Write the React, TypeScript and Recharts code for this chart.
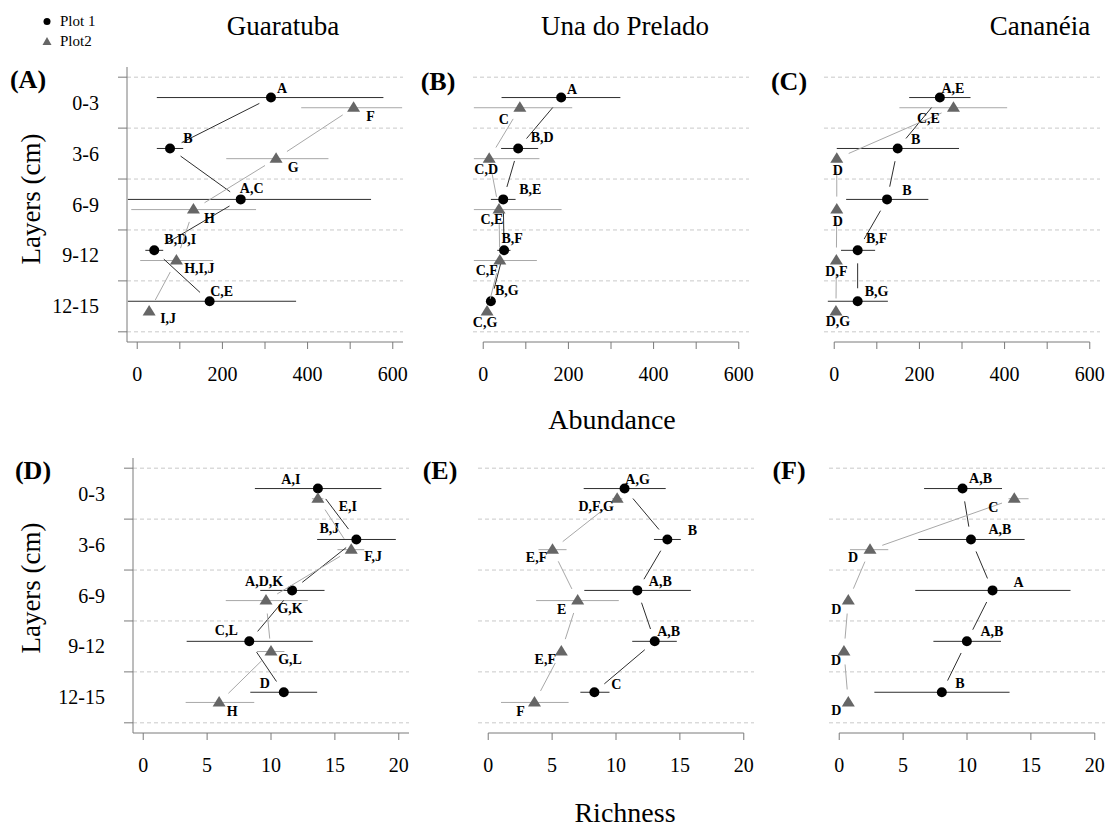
import React from 'react';
import { ComposedChart, Scatter, XAxis, YAxis, ErrorBar, ReferenceLine } from 'recharts';

// layers and the depth where each plot sits inside a 3 cm layer
const LAYERS = ['0-3', '3-6', '6-9', '9-12', '12-15'];
const DEPTH_PLOT1 = [1.2, 4.2, 7.2, 10.2, 13.2];
const DEPTH_PLOT2 = [1.8, 4.8, 7.8, 10.8, 13.8];
const LAYER_BOUNDS = [0, 3, 6, 9, 12, 15];
const LAYER_MIDS = [1.5, 4.5, 7.5, 10.5, 13.5];
const ABUND_TICKS = [0, 100, 200, 300, 400, 500, 600];
const RICH_TICKS = [0, 5, 10, 15, 20];

// Abundance - Guaratuba
const guaAb1 = [314, 77, 243, 40, 170];
const guaAb1Lo = [46, 46, -22, 19, -22];
const guaAb1Hi = [578, 108, 549, 61, 373];
const guaAb1Let = ['A', 'B', 'A,C', 'B,D,I', 'C,E'];
const guaAb2 = [508, 326, 132, 92, 28];
const guaAb2Lo = [385, 209, -14, 7, 22];
const guaAb2Hi = [622, 449, 279, 178, 34];
const guaAb2Let = ['F', 'G', 'H', 'H,I,J', 'I,J'];

// Abundance - Una do Prelado
const unaAb1 = [183, 82, 47, 49, 18];
const unaAb1Lo = [43, 42, 18, 33, 10];
const unaAb1Hi = [322, 129, 76, 64, 26];
const unaAb1Let = ['A', 'B,D', 'B,E', 'B,F', 'B,G'];
const unaAb2 = [86, 14, 37, 39, 9];
const unaAb2Lo = [-22, -22, -22, -22, 3];
const unaAb2Hi = [209, 132, 184, 126, 15];
const unaAb2Let = ['C', 'C,D', 'C,E', 'C,F', 'C,G'];

// Abundance - Cananéia
const canAb1 = [248, 149, 124, 55, 55];
const canAb1Lo = [176, 6, 28, 16, -15];
const canAb1Hi = [320, 293, 221, 96, 126];
const canAb1Let = ['A,E', 'B', 'B', 'B,F', 'B,G'];
const canAb2 = [280, 6, 6, 5, 4];
const canAb2Lo = [153, 3, 3, 2, 1];
const canAb2Hi = [406, 9, 9, 8, 7];
const canAb2Let = ['C,E', 'D', 'D', 'D,F', 'D,G'];

// Richness - Guaratuba
const guaRi1 = [13.67, 16.68, 11.65, 8.3, 11.0];
const guaRi1Lo = [8.74, 13.61, 9.16, 3.4, 8.38];
const guaRi1Hi = [18.64, 19.77, 14.19, 13.27, 13.61];
const guaRi1Let = ['A,I', 'B,J', 'A,D,K', 'C,L', 'D'];
const guaRi2 = [13.67, 16.28, 9.61, 10.0, 5.94];
const guaRi2Lo = [13.2, 15.2, 6.46, 8.9, 3.32];
const guaRi2Hi = [14.1, 17.3, 12.88, 11.05, 8.69];
const guaRi2Let = ['E,I', 'F,J', 'G,K', 'G,L', 'H'];

// Richness - Una do Prelado
const unaRi1 = [10.67, 14.02, 11.67, 13.03, 8.31];
const unaRi1Lo = [7.47, 12.97, 7.52, 11.27, 7.21];
const unaRi1Hi = [13.89, 15.07, 15.86, 14.76, 9.49];
const unaRi1Let = ['A,G', 'B', 'A,B', 'A,B', 'C'];
const unaRi2 = [10.09, 5.03, 7.0, 5.72, 3.62];
const unaRi2Lo = [9.7, 3.93, 3.75, 5.45, 1.0];
const unaRi2Hi = [10.5, 6.13, 10.22, 6.0, 6.29];
const unaRi2Let = ['D,F,G', 'E,F', 'E', 'E,F', 'F'];

// Richness - Cananéia
const canRi1 = [9.65, 10.31, 12.0, 9.99, 8.03];
const canRi1Lo = [6.64, 6.2, 5.95, 7.37, 2.75];
const canRi1Hi = [12.74, 14.51, 18.1, 12.66, 13.33];
const canRi1Let = ['A,B', 'A,B', 'A', 'A,B', 'B'];
const canRi2 = [13.7, 2.41, 0.71, 0.37, 0.71];
const canRi2Lo = [13.25, 0.84, 0.4, 0.1, 0.4];
const canRi2Hi = [14.82, 3.84, 1.0, 0.65, 1.0];
const canRi2Let = ['C', 'D', 'D', 'D', 'D'];

// where each letter sits relative to its point (px)
const POS = {
  A1: [[11, -9], [18, -10], [11, -11], [26, -11], [12, -10]],
  A2: [[17, 9], [17, 9], [16, 9], [23, 8], [19, 7]],
  B1: [[11, -8], [24, -11], [27, -10], [8, -12], [16, -11]],
  B2: [[-16, 12], [-3, 11], [-7, 10], [-13, 10], [-2, 11]],
  C1: [[13, -9], [18, -9], [20, -9], [19, -12], [19, -10]],
  C2: [[-25, 11], [1, 12], [1, 12], [0, 11], [2, 10]],
  D1: [[-27, -9], [-27, -11], [-28, -9], [-23, -11], [-19, -9]],
  D2: [[30, 8], [22, 7], [24, 8], [19, 8], [13, 9]],
  E1: [[13, -9], [25, -9], [23, -9], [14, -10], [22, -8]],
  E2: [[-21, 8], [-16, 8], [-16, 9], [-16, 8], [-14, 9]],
  F1: [[18, -10], [29, -10], [26, -8], [25, -10], [18, -9]],
  F2: [[-21, 9], [-17, 8], [-12, 9], [-8, 9], [-12, 8]],
};

const SERIF = '"Liberation Serif", "Times New Roman", Times, serif';
const AXIS = '#7a7a7a';
const DARK = '#2e2e2e';
const LIGHT = '#a8a8a8';
const TRI = '#666666';
const PLOT_W = 276;
const PLOT_H = 275;
const Y_W = 95;
const X_H = 60;
const GAP = 13;

const rows = (vals: number[], lo: number[], hi: number[], depth: number[], letters: string[]) =>
  vals.map((v, i) => ({ x: v, y: depth[i], err: [v - lo[i], hi[i] - v], letter: letters[i], i }));

// R type="b" style: segments that stop short of the points
const gapLine = (color: string) => (props: any) => {
  const pts = props.points || [];
  const segs = [];
  for (let k = 1; k < pts.length; k++) {
    const a = pts[k - 1];
    const b = pts[k];
    const dx = b.x - a.x;
    const dy = b.y - a.y;
    const len = Math.hypot(dx, dy);
    if (len <= 2 * GAP) continue;
    const ux = dx / len;
    const uy = dy / len;
    segs.push(
      <line key={k} x1={a.x + ux * GAP} y1={a.y + uy * GAP} x2={b.x - ux * GAP} y2={b.y - uy * GAP}
        stroke={color} strokeWidth={1} />
    );
  }
  return <g>{segs}</g>;
};

const marker = (kind: 'circle' | 'tri', offsets: number[][]) => (props: any) => {
  const { cx, cy, payload } = props;
  const [dx, dy] = offsets[payload.i] || [10, -10];
  return (
    <g>
      {kind === 'circle' ? (
        <circle cx={cx} cy={cy} r={5} fill="#000" />
      ) : (
        <polygon points={`${cx},${cy - 6.5} ${cx + 6.5},${cy + 4} ${cx - 6.5},${cy + 4}`} fill={TRI} />
      )}
      <text x={cx + dx} y={cy + dy} textAnchor="middle" dominantBaseline="central"
        style={{ fontFamily: SERIF }} fontWeight="bold" fontSize={14} fill="#000">
        {payload.letter}
      </text>
    </g>
  );
};

const xTick = (every: number) => (p: any) => (
  <g>
    <line x1={p.x} y1={p.y} x2={p.x} y2={p.y + 7} stroke={AXIS} />
    {p.payload.value % every === 0 ? (
      <text x={p.x} y={p.y + 25} dy="0.71em" textAnchor="middle" style={{ fontFamily: SERIF }} fontSize={20} fill="#000">
        {p.payload.value}
      </text>
    ) : null}
  </g>
);

const yTick = (p: any) => {
  const mid = LAYER_MIDS.indexOf(p.payload.value);
  if (mid >= 0) {
    return (
      <text x={p.x - 28} y={p.y} textAnchor="end" dominantBaseline="central" style={{ fontFamily: SERIF }} fontSize={20} fill="#000">
        {LAYERS[mid]}
      </text>
    );
  }
  return <line x1={p.x - 9} y1={p.y} x2={p.x} y2={p.y} stroke={AXIS} />;
};

const PANELS = [
  { key: 'A', left: 127, top: 67, ab: true, box: true,
    s1: rows(guaAb1, guaAb1Lo, guaAb1Hi, DEPTH_PLOT1, guaAb1Let), s2: rows(guaAb2, guaAb2Lo, guaAb2Hi, DEPTH_PLOT2, guaAb2Let) },
  { key: 'B', left: 473, top: 67, ab: true, box: false,
    s1: rows(unaAb1, unaAb1Lo, unaAb1Hi, DEPTH_PLOT1, unaAb1Let), s2: rows(unaAb2, unaAb2Lo, unaAb2Hi, DEPTH_PLOT2, unaAb2Let) },
  { key: 'C', left: 824, top: 67, ab: true, box: false,
    s1: rows(canAb1, canAb1Lo, canAb1Hi, DEPTH_PLOT1, canAb1Let), s2: rows(canAb2, canAb2Lo, canAb2Hi, DEPTH_PLOT2, canAb2Let) },
  { key: 'D', left: 132.5, top: 458, ab: false, box: true,
    s1: rows(guaRi1, guaRi1Lo, guaRi1Hi, DEPTH_PLOT1, guaRi1Let), s2: rows(guaRi2, guaRi2Lo, guaRi2Hi, DEPTH_PLOT2, guaRi2Let) },
  { key: 'E', left: 478, top: 458, ab: false, box: false,
    s1: rows(unaRi1, unaRi1Lo, unaRi1Hi, DEPTH_PLOT1, unaRi1Let), s2: rows(unaRi2, unaRi2Lo, unaRi2Hi, DEPTH_PLOT2, unaRi2Let) },
  { key: 'F', left: 829, top: 458, ab: false, box: false,
    s1: rows(canRi1, canRi1Lo, canRi1Hi, DEPTH_PLOT1, canRi1Let), s2: rows(canRi2, canRi2Lo, canRi2Hi, DEPTH_PLOT2, canRi2Let) },
];

function Panel({ cfg }: { cfg: any }) {
  const ticks = cfg.ab ? ABUND_TICKS : RICH_TICKS;
  const domain = cfg.ab ? [-24, 624] : [-0.8, 20.8];
  const every = cfg.ab ? 200 : 5;
  return (
    <div style={{ position: 'absolute', left: cfg.left - Y_W, top: cfg.top - 10, fontFamily: SERIF }}>
      <ComposedChart width={Y_W + PLOT_W + 10} height={10 + PLOT_H + X_H}
        margin={{ top: 10, right: 10, bottom: 0, left: 0 }}>
        <XAxis type="number" dataKey="x" domain={domain} ticks={ticks} interval={0} height={X_H}
          tickSize={0} tickMargin={0} tickLine={false}
          axisLine={cfg.box ? { stroke: AXIS } : false} tick={xTick(every)} />
        <YAxis type="number" dataKey="y" domain={[-0.6, 15.6]} reversed width={Y_W}
          ticks={[...LAYER_BOUNDS, ...LAYER_MIDS].sort((a, b) => a - b)} interval={0}
          tickSize={0} tickMargin={0} tickLine={false}
          axisLine={cfg.box ? { stroke: AXIS } : false} tick={cfg.box ? yTick : false} />
        {LAYER_BOUNDS.map((d) => (
          <ReferenceLine key={d} y={d} stroke="#c9c9c9" strokeDasharray="4 3" />
        ))}
        {!cfg.box && (
          <ReferenceLine segment={[{ x: ticks[0], y: 15.6 }, { x: ticks[ticks.length - 1], y: 15.6 }]}
            stroke={AXIS} ifOverflow="visible" />
        )}
        <Scatter data={cfg.s1} isAnimationActive={false} line={gapLine(DARK)}
          shape={marker('circle', (POS as any)[cfg.key + '1'])}>
          <ErrorBar dataKey="err" direction="x" width={0} stroke={DARK} strokeWidth={1} isAnimationActive={false} />
        </Scatter>
        <Scatter data={cfg.s2} isAnimationActive={false} line={gapLine(LIGHT)}
          shape={marker('tri', (POS as any)[cfg.key + '2'])}>
          <ErrorBar dataKey="err" direction="x" width={0} stroke={LIGHT} strokeWidth={1} isAnimationActive={false} />
        </Scatter>
      </ComposedChart>
    </div>
  );
}

const TAGS = [
  { t: '(A)', x: 28, y: 79 }, { t: '(B)', x: 438, y: 81 }, { t: '(C)', x: 789, y: 81 },
  { t: '(D)', x: 33, y: 470 }, { t: '(E)', x: 440, y: 470 }, { t: '(F)', x: 789, y: 470 },
];

export default function App() {
  return (
    <div style={{ position: 'absolute', left: 0, top: 0, width: 1112, height: 829, background: '#fff', fontFamily: SERIF }}>
      <svg width={1112} height={829} style={{ position: 'absolute', left: 0, top: 0, fontFamily: SERIF }}>
        {/* legend */}
        <circle cx={47} cy={21.5} r={3.5} fill="#000" />
        <text x={60} y={26} fontSize={15} fill="#000">Plot 1</text>
        <polygon points="47,37 51.5,45 42.5,45" fill={TRI} />
        <text x={60} y={46} fontSize={15} fill="#000">Plot2</text>
        {/* site titles */}
        <text x={283} y={35} fontSize={27} textAnchor="middle">Guaratuba</text>
        <text x={625} y={35} fontSize={27} textAnchor="middle">Una do Prelado</text>
        <text x={1040} y={35} fontSize={27} textAnchor="middle">Cananéia</text>
        {/* axis titles */}
        <text x={612} y={429} fontSize={28} textAnchor="middle">Abundance</text>
        <text x={625} y={822} fontSize={28} textAnchor="middle">Richness</text>
        <text transform="translate(40,199) rotate(-90)" fontSize={27} textAnchor="middle">Layers (cm)</text>
        <text transform="translate(40,588) rotate(-90)" fontSize={27} textAnchor="middle">Layers (cm)</text>
        {TAGS.map((g) => (
          <text key={g.t} x={g.x} y={g.y} fontSize={26} fontWeight="bold" textAnchor="middle" dominantBaseline="central">
            {g.t}
          </text>
        ))}
      </svg>
      {PANELS.map((p) => (
        <Panel key={p.key} cfg={p} />
      ))}
    </div>
  );
}
